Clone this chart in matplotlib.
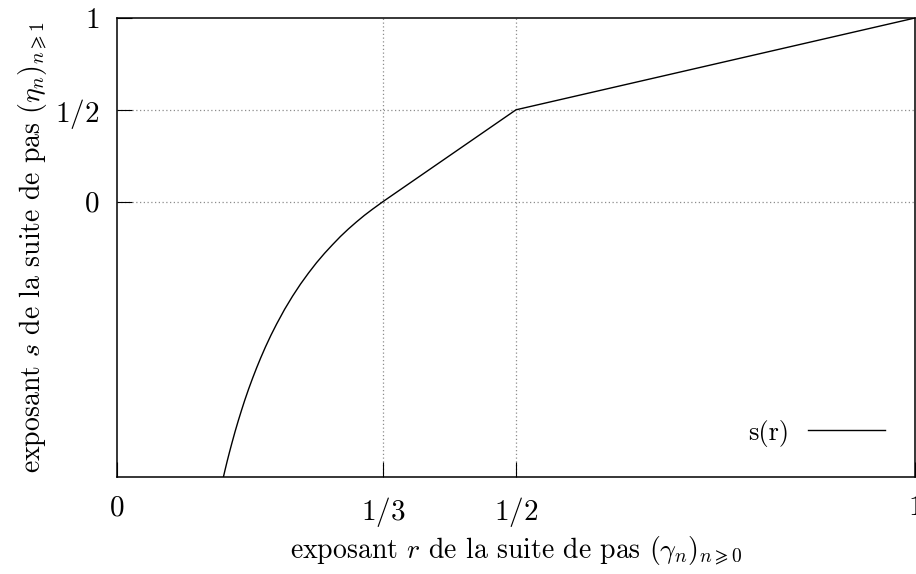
import numpy as np
import matplotlib
matplotlib.use("Agg")
import matplotlib.pyplot as plt

plt.rcParams['font.family'] = ['cmr10', 'DejaVu Serif']
plt.rcParams['mathtext.fontset'] = 'cm'
plt.rcParams['axes.formatter.use_mathtext'] = True

# s(r): courbe pour r < 1/3, puis deux segments
r = [0.1327, 0.135, 0.138, 0.141, 0.144, 0.148, 0.152, 0.156, 0.160, 0.165, 0.170,
     0.175, 0.180, 0.186, 0.193, 0.200, 0.21, 0.22, 0.23, 0.24, 0.25, 0.26, 0.27,
     0.28, 0.29, 0.30, 0.31, 0.32, 1/3, 0.5, 1.0]
s = [-1.512, -1.469, -1.415, -1.364, -1.315, -1.252, -1.193, -1.137, -1.083, -1.020, -0.961,
     -0.905, -0.852, -0.792, -0.727, -0.667, -0.587, -0.515, -0.449, -0.389, -0.333, -0.282, -0.235,
     -0.190, -0.149, -0.111, -0.075, -0.042, 0.0, 0.5, 1.0]

xticks = [0, 1/3, 0.5, 1]
xlabels = ['$0$', '$1/3$', '$1/2$', '$1$']
yticks = [0, 0.5, 1]
ylabels = ['$0$', '$1/2$', '$1$']

fig = plt.figure(figsize=(9.16, 5.74), dpi=100)
ax = fig.add_axes([117/916, 1 - 477/574, 798/916, 459/574])

ax.plot(r, s, color='black', lw=1.0, label='s(r)')

ax.set_xlim(0, 1)
ax.set_ylim(-1.5, 1)
ax.set_xticks(xticks)
ax.set_xticklabels(xlabels)
ax.set_yticks(yticks)
ax.set_yticklabels(ylabels)

# grille pointillée seulement aux valeurs intérieures
for xv in [1/3, 0.5]:
    ax.axvline(xv, color='0.55', lw=0.9, ls=(0, (1, 2)), zorder=0)
for yv in [0, 0.5]:
    ax.axhline(yv, color='0.55', lw=0.9, ls=(0, (1, 2)), zorder=0)

ax.tick_params(direction='in', length=11, width=0.8, labelsize=21)
ax.tick_params(axis='x', pad=13)
ax.tick_params(axis='y', pad=13)
for sp in ax.spines.values():
    sp.set_linewidth(1.1)

ax.set_xlabel(r'exposant $r$ de la suite de pas $(\gamma_n)_{n\geqslant 0}$', fontsize=20, labelpad=4)
ax.set_ylabel(r'exposant $s$ de la suite de pas $(\eta_n)_{n\geqslant 1}$', fontsize=20, labelpad=3)

ax.legend(loc='lower right', frameon=False, fontsize=19, markerfirst=False,
          handlelength=2.9, handletextpad=0.7, borderaxespad=0.75)

fig.savefig('out.png', dpi=100)
